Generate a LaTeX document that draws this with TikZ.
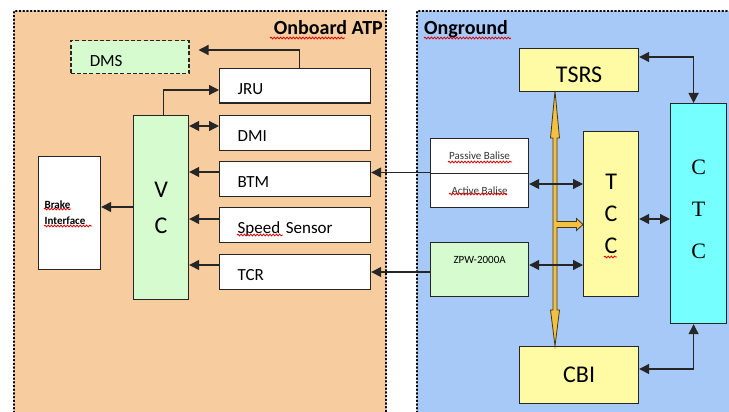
\documentclass[tikz,border=0pt]{standalone}
\usepackage{fontspec}
\setmainfont{Carlito}
\newfontfamily\serifct{Liberation Serif}
\usetikzlibrary{arrows.meta,decorations.pathmorphing}
\definecolor{peach}{RGB}{247,204,158}
\definecolor{skyb}{RGB}{166,201,247}
\definecolor{lgreen}{RGB}{213,251,207}
\definecolor{lyellow}{RGB}{255,251,165}
\definecolor{lcyan}{RGB}{118,255,255}
\definecolor{gold}{RGB}{244,192,66}
\definecolor{goldline}{RGB}{70,55,20}
\tikzset{
  region/.style={line width=1.3pt, dash pattern=on 1.3pt off 2.4pt, line cap=round},
  box/.style={draw=black!85, line width=1.2pt, rectangle, inner sep=0pt, anchor=north west},
  lbox/.style={box, fill=white, minimum height=34.5pt, text width=115pt, inner xsep=18pt,
    align=left, text height=18pt, text depth=0pt, font=\fontsize{17}{20}\selectfont},
  ybox/.style={box, fill=lyellow, font=\fontsize{24}{28}\selectfont},
  conn/.style={draw=black!85, line width=1.3pt},
  arr/.style={conn, -{Triangle[length=10pt,width=10pt]}},
  dbl/.style={conn, {Triangle[length=10pt,width=10pt]}-{Triangle[length=10pt,width=10pt]}},
  squig/.style={draw=red!85!black, line width=0.8pt, decorate,
    decoration={snake, amplitude=0.9pt, segment length=3.2pt}},
}
\begin{document}
\begin{tikzpicture}[x=1pt,y=-1pt]
\useasboundingbox (0,0) rectangle (729,412);
\fill[white] (0,0) rectangle (729,412);
% regions
\fill[peach] (14,11) rectangle (386,420);
\draw[region] (14,420) -- (14,11) -- (386,11) -- (386,420);
\fill[skyb] (417,11) rectangle (740,420);
\draw[region] (417,420) -- (417,11) -- (740,11);
\node[anchor=base east, font=\bfseries\fontsize{20}{24}\selectfont, inner sep=0pt] (onboard) at (383,35) {Onboard ATP};
\node[anchor=base west, font=\bfseries\fontsize{20}{24}\selectfont, inner sep=0pt] (onground) at (424,35) {Onground};
% onboard boxes
\node[box, fill=lgreen, draw=black!85, dash pattern=on 4pt off 2.2pt, line width=1.5pt,
  minimum height=33pt, text width=80pt, inner xsep=19pt, align=left,
  text height=18pt, text depth=0pt, font=\fontsize{17}{20}\selectfont] (dms) at (70,40) {DMS};
\node[lbox] (jru) at (219,68) {JRU};
\node[lbox] (dmi) at (219,115) {DMI};
\node[lbox] (btm) at (219,161) {BTM};
\node[lbox] (spd) at (219,207) {Speed Sensor};
\node[lbox] (tcr) at (219,254) {TCR};
\node[box, fill=lgreen, minimum width=55pt, minimum height=184pt, align=center,
  font=\fontsize{24}{36}\selectfont] (vc) at (133,115) {V\\C};
\node[box, fill=white, minimum height=113pt, text width=50pt, inner xsep=6pt, align=left,
  font=\bfseries\fontsize{11}{16}\selectfont] (brake) at (38,156) {Brake\\Interface};
% onground boxes
\node[box, fill=white, minimum height=35pt, minimum width=98pt,
  font=\fontsize{11}{13}\selectfont, text=black!80] (passive) at (430,138) {Passive Balise};
\node[box, fill=white, minimum height=34pt, minimum width=98pt,
  font=\fontsize{11}{13}\selectfont, text=black!80] (active) at (430,173) {Active Balise};
\node[box, fill=lgreen, minimum height=54pt, minimum width=98pt,
  text height=0pt, text depth=13pt, font=\fontsize{11}{13}\selectfont] (zpw) at (430,242) {ZPW-2000A};
\node[ybox, minimum width=119pt, minimum height=43pt, text height=25pt, text depth=0pt] (tsrs) at (519,48) {TSRS};
\node[ybox, minimum width=119pt, minimum height=57pt, text height=15pt, text depth=0pt] (cbi) at (519,346) {CBI};
\node[box, fill=lyellow, minimum width=55pt, minimum height=165pt, align=center,
  font=\fontsize{24}{32}\selectfont] (tcc) at (583,131) {T\\C\\C};
\node[box, fill=lcyan, minimum width=56pt, minimum height=220pt,
  label={[yshift=4.5pt, align=center, font=\serifct\fontsize{22}{42}\selectfont]center:{C\\T\\C}}] (ctc) at (670,103) {};
% yellow bus arrow
\filldraw[fill=gold, draw=goldline, line width=0.8pt, line join=miter]
  (555,91) -- (559.5,138) -- (557,138) -- (557,221.5) -- (576.5,221.5) -- (576.5,218.5)
  -- (583,224.5) -- (576.5,230.5) -- (576.5,227.5) -- (557,227.5) -- (557,310) -- (559.5,310)
  -- (555,346) -- (550.5,310) -- (553,310) -- (553,138) -- (550.5,138) -- cycle;
% onboard connectors
\draw[arr, shorten >=9pt] ([xshift=4.5pt]jru.north) |- (dms.east |- 0,50);
\draw[arr] ([xshift=2.5pt]vc.north) |- (jru.west |- 0,90);
\draw[dbl] (vc.east |- 0,126) -- (dmi.west |- 0,126);
\draw[arr] (btm.west |- 0,172) -- (vc.east |- 0,172);
\draw[arr] (spd.west |- 0,219) -- (vc.east |- 0,219);
\draw[arr] (tcr.west |- 0,265) -- (vc.east |- 0,265);
\draw[arr] (vc.west |- 0,207) -- (brake.east |- 0,207);
% cross connectors
\draw[arr] (passive.west |- 0,172.5) -- (btm.east |- 0,172.5);
\draw[arr] (zpw.west |- 0,272) -- (tcr.east |- 0,272);
% onground connectors
\draw[dbl] (active.east |- 0,184) -- (tcc.west |- 0,184);
\draw[dbl] (zpw.east |- 0,265) -- (tcc.west |- 0,265);
\draw[dbl] (tcc.east |- 0,219) -- (ctc.west |- 0,219);
\draw[dbl] (tsrs.east |- 0,57) -| ([xshift=-5pt]ctc.north);
\draw[dbl] (cbi.east |- 0,369) -| ([xshift=-5pt]ctc.south);
% spell-check squiggles
\draw[squig] (270,38) -- (345,38);
\draw[squig] (424,38) -- (511,38);
\draw[squig] (44,209) -- (71,209);
\draw[squig] (44,226) -- (92,226);
\draw[squig] (237,235) -- (283,235);
\draw[squig] (448,162) -- (512,162);
\draw[squig] (449,194) -- (507,194);
\draw[squig] (604,257) -- (617,257);
\end{tikzpicture}
\end{document}
